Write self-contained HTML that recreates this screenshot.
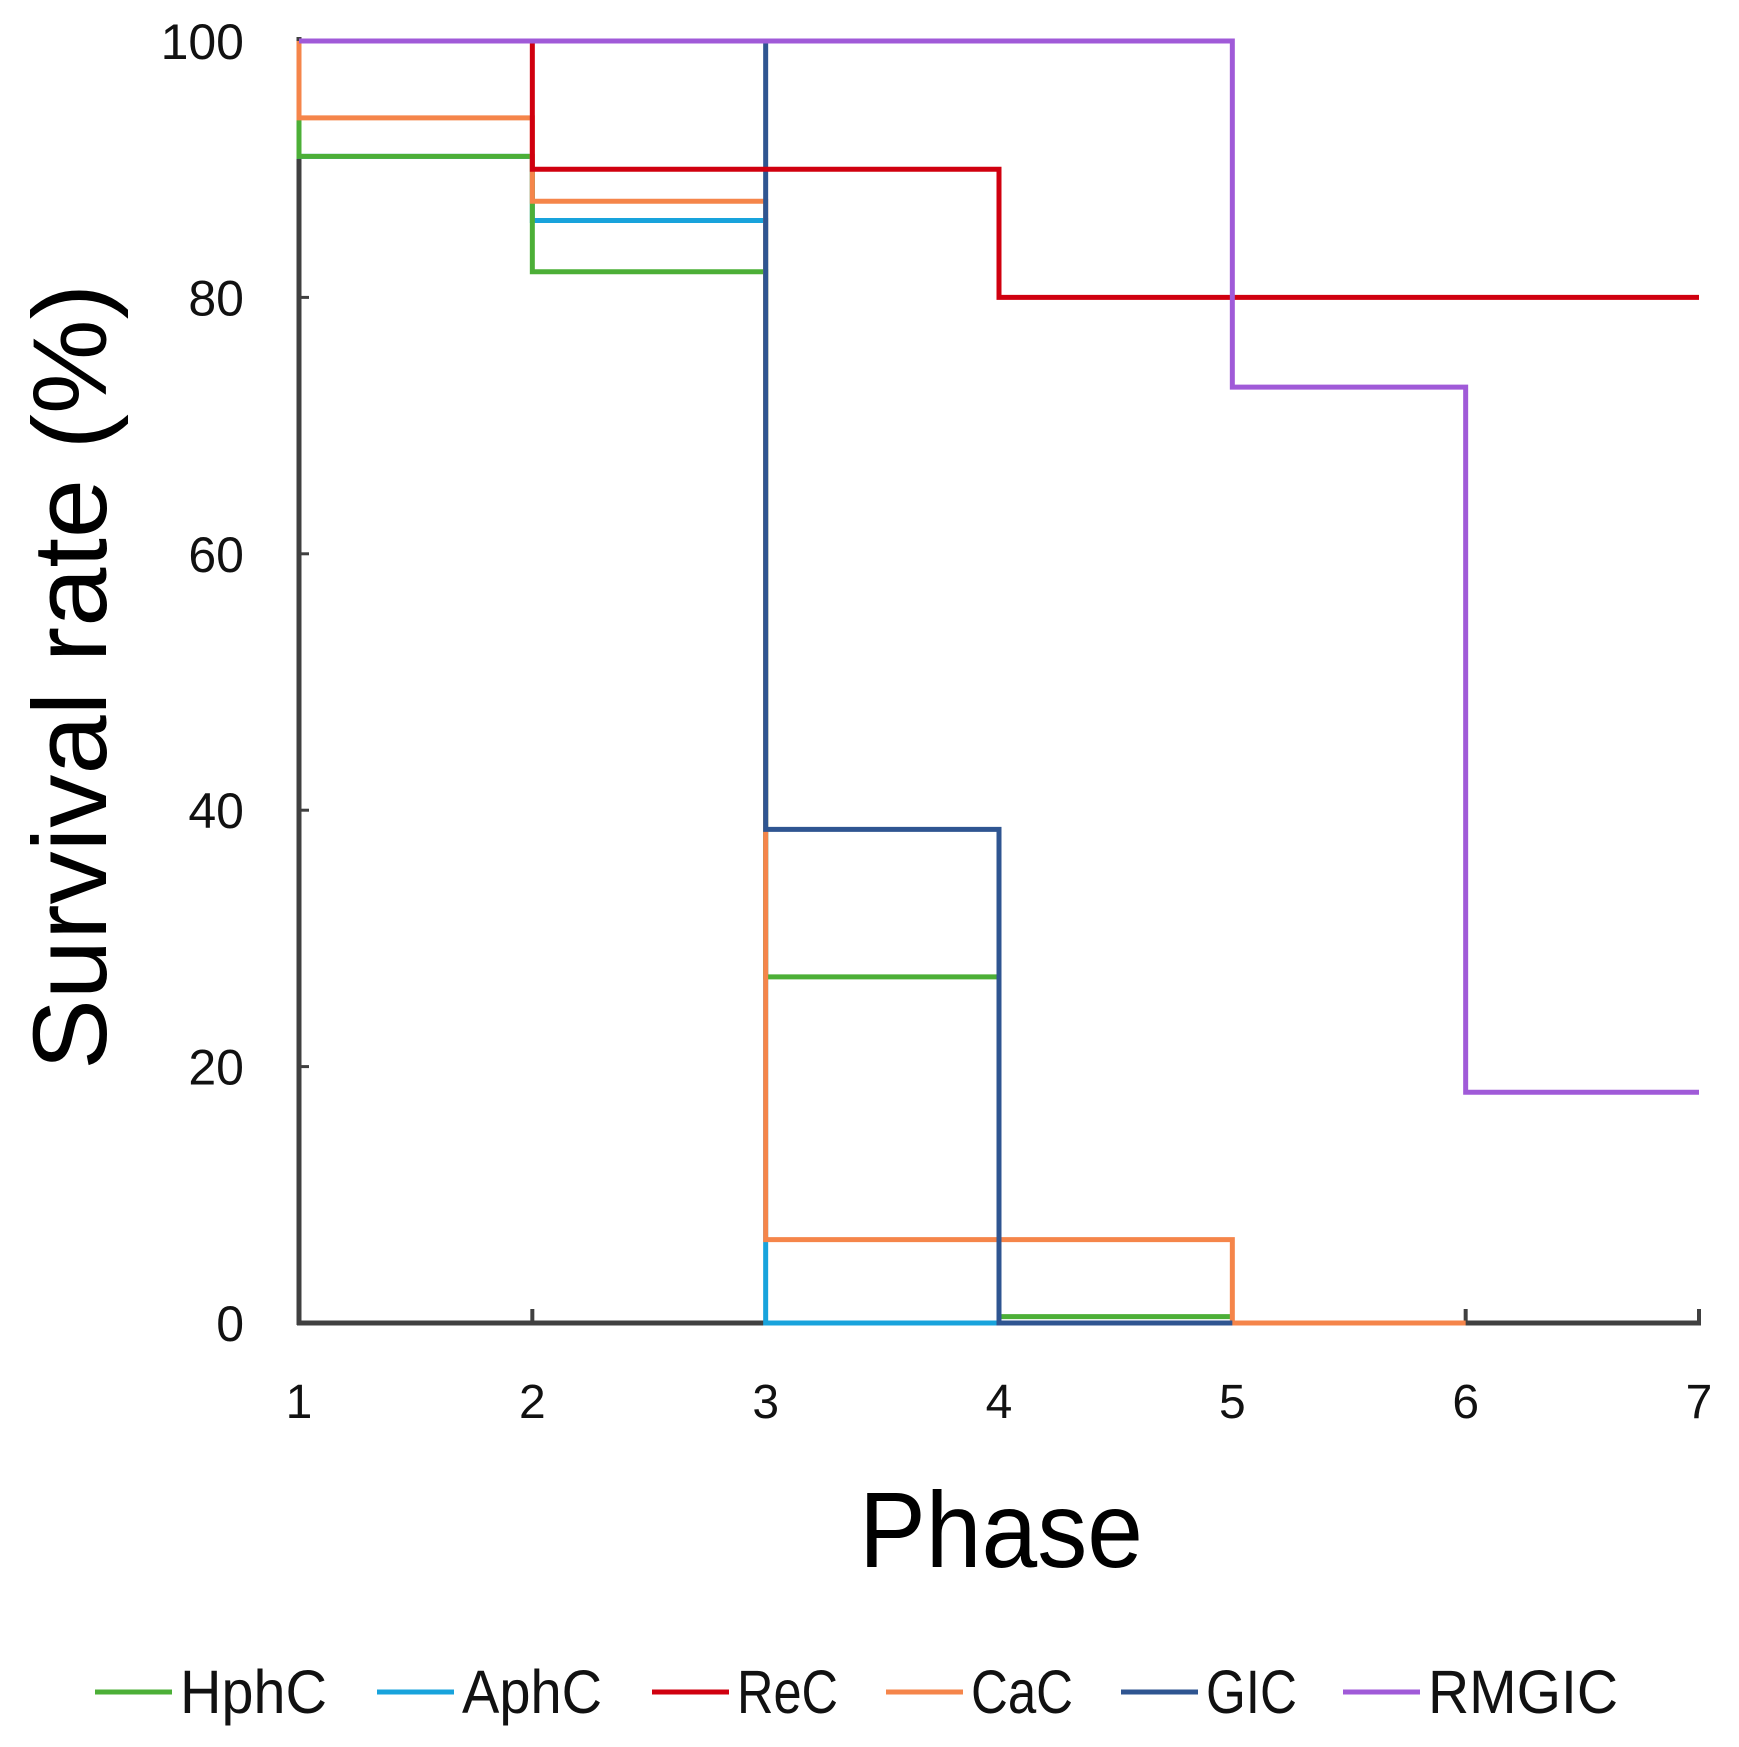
<!DOCTYPE html>
<html><head><meta charset="utf-8"><style>
html,body{margin:0;padding:0;background:#fff;}
svg{display:block;font-family:"Liberation Sans",sans-serif;}
</style></head><body>
<svg id="chart" width="1739" height="1747" viewBox="0 0 1739 1747" xmlns="http://www.w3.org/2000/svg">
<g id="axes"></g>
<g id="series"></g>
<text x="0" y="0" transform="translate(106,677) rotate(-90)" text-anchor="middle" font-size="105" fill="#000" textLength="786" lengthAdjust="spacingAndGlyphs">Survival rate (%)</text>
<text x="1001" y="1567" text-anchor="middle" font-size="108" fill="#000" textLength="284" lengthAdjust="spacingAndGlyphs">Phase</text>
<g id="legend"></g>
</svg>
<script>
const xTicks = [1,2,3,4,5,6,7];
const yTicks = [0,20,40,60,80,100];
const seriesNames = ["HphC","AphC","ReC","CaC","GIC","RMGIC"];
const seriesColors = ["#4caf37","#18a3dc","#d0000f","#f5854a","#2f5591","#a05ad8"];
// step values for intervals starting at phase 1,2,3...
const hphc = [91,82,27,0.5];
const aphc = [91,86,0];
const rec = [100,90,90,80,80,80];
const cac = [94,87.5,6.5,6.5,0];
const gic = [100,100,38.5,0];
const rmgic = [100,100,100,100,73,18];
const seriesValues = [hphc,aphc,rec,cac,gic,rmgic];
const drawOrder = [1,0,3,4,2,5];

const X0=299, X1=1699, Y0=1323, Y100=41;
const xs = v => X0 + (v-1)*(X1-X0)/6;
const ys = v => Y0 - v*(Y0-Y100)/100;
const NS="http://www.w3.org/2000/svg";
function mk(tag, attrs, parent){const e=document.createElementNS(NS,tag);for(const k in attrs)e.setAttribute(k,attrs[k]);parent.appendChild(e);return e;}

const axes=document.getElementById('axes');
let a=mk('line',{x1:X0,y1:Y100-4,x2:X0,y2:Y0+2,stroke:'#404040','stroke-width':5},axes);


a=mk('line',{x1:X0-2,y1:Y0,x2:X1+2,y2:Y0,stroke:'#404040','stroke-width':5},axes);


xTicks.forEach(t=>{
  const l=mk('line',{x1:xs(t),y1:Y0,x2:xs(t),y2:Y0-14,stroke:'#404040','stroke-width':4},axes);
  
  
  const tx=mk('text',{x:xs(t),y:Y0+95,'text-anchor':'middle','font-size':48,fill:'#111'},axes);
  tx.textContent=t;
  
  
});
yTicks.forEach(t=>{
  const l=mk('line',{x1:X0,y1:ys(t),x2:X0+10,y2:ys(t),stroke:'#404040','stroke-width':3},axes);
  
  
  const tx=mk('text',{x:244,y:ys(t)+18,'text-anchor':'end','font-size':50,fill:'#111'},axes);
  tx.textContent=t;
  
  
});

const sg=document.getElementById('series');
drawOrder.forEach(i=>{
  const vals=seriesValues[i];
  let d='M'+xs(1)+','+ys(100);
  vals.forEach((v,k)=>{ d+=' L'+xs(1+k)+','+ys(v)+' L'+xs(2+k)+','+ys(v); });
  const p=mk('path',{d:d,fill:'none',stroke:seriesColors[i],'stroke-width':5,'stroke-linejoin':'miter'},sg);
  
  
});

const legendX=[95,377,652,886,1121,1343];
const legendEnd=[327,602,838,1073,1297,1618];
const lg=document.getElementById('legend');
seriesNames.forEach((n,i)=>{
  const g=mk('g',{},lg);
  
  
  mk('line',{x1:legendX[i],y1:1692,x2:legendX[i]+77,y2:1692,stroke:seriesColors[i],'stroke-width':5},g);
  const t=mk('text',{x:legendX[i]+85,y:1713,'font-size':61,fill:'#111',textLength:legendEnd[i]-legendX[i]-85,lengthAdjust:'spacingAndGlyphs'},g);
  t.textContent=n;
});
</script>
</body></html>
